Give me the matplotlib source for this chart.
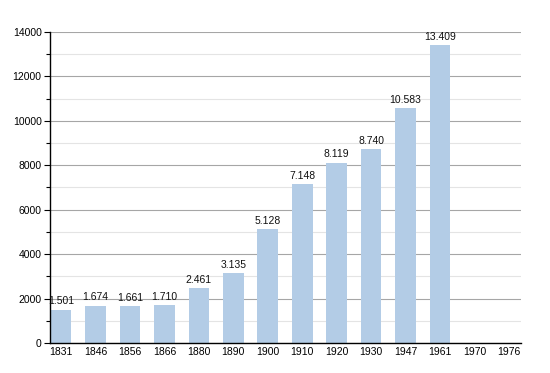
import matplotlib
matplotlib.use("Agg")
import matplotlib.pyplot as plt
from matplotlib.ticker import MultipleLocator

years = ["1831", "1846", "1856", "1866", "1880", "1890", "1900", "1910",
         "1920", "1930", "1947", "1961", "1970", "1976"]
population = [1501, 1674, 1661, 1710, 2461, 3135, 5128, 7148,
              8119, 8740, 10583, 13409, None, None]

plt.rcParams["font.family"] = ["Liberation Sans", "DejaVu Sans"]

fig = plt.figure(figsize=(5.5, 3.73), dpi=100)
ax = fig.add_axes([50 / 550, 1 - 343 / 373, 471 / 550, 311 / 373])

xs = list(range(len(years)))
for x, v in zip(xs, population):
    if v is None:
        continue
    ax.bar(x, v, width=0.6, color="#b3cce6", zorder=2)
    ax.text(x, v + 150, f"{v:,}".replace(",", "."), ha="center", va="bottom",
            fontsize=7.5, color="#111111", zorder=3)

ax.set_xlim(-0.32, 13.35)
ax.set_ylim(0, 14000)
ax.set_xticks(xs)
ax.set_xticklabels(years, fontsize=7.5)
ax.tick_params(axis="x", length=0, pad=3)
ax.yaxis.set_major_locator(MultipleLocator(2000))
ax.yaxis.set_minor_locator(MultipleLocator(1000))
ax.tick_params(axis="y", which="major", length=4, width=0.8, labelsize=7.5, pad=2)
ax.tick_params(axis="y", which="minor", length=3, width=0.8)
ax.grid(axis="y", which="major", color="#a6a6a6", lw=0.8, zorder=0)
ax.grid(axis="y", which="minor", color="#e4e4e4", lw=0.8, zorder=0)
for s in ("top", "right"):
    ax.spines[s].set_visible(False)
ax.spines["left"].set_linewidth(1.0)
ax.spines["bottom"].set_linewidth(1.0)

fig.savefig("out.png", dpi=100)
